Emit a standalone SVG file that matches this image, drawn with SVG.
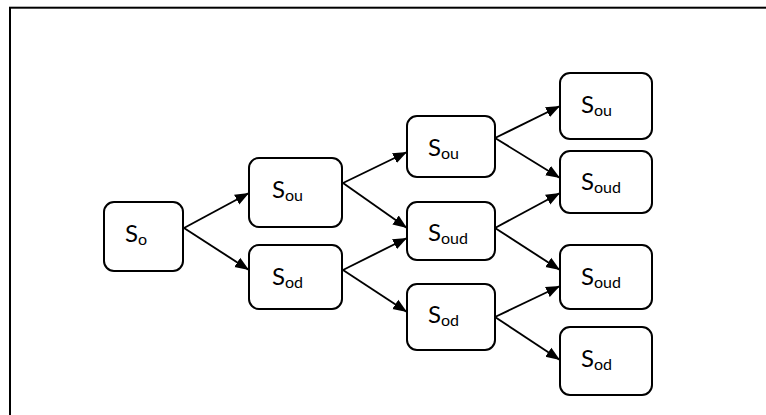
<svg xmlns="http://www.w3.org/2000/svg" width="766" height="415" viewBox="0 0 766 415">
<defs>
<marker id="ah" markerUnits="userSpaceOnUse" markerWidth="15" markerHeight="12" viewBox="0 0 15 12" refX="14" refY="6" orient="auto">
<path d="M0,0.5 L14,6 L0,11.5 Z" fill="#000"/>
</marker>
</defs>
<style>
.box{fill:#fff;stroke:#000;stroke-width:2}
.lbl{font-family:Lato,"Open Sans","Liberation Sans",sans-serif;font-size:24px;fill:#000}
.sub{font-size:16px}
.edge{stroke:#000;stroke-width:1.9;fill:none;marker-end:url(#ah)}
</style>
<rect x="10" y="7.7" width="800" height="450" fill="#fff" stroke="#000" stroke-width="2"/>
<g id="connectors">
<line class="edge" x1="184" y1="228" x2="249" y2="193"/>
<line class="edge" x1="184" y1="228" x2="249" y2="270"/>
<line class="edge" x1="343" y1="183" x2="407" y2="152"/>
<line class="edge" x1="343" y1="183" x2="407" y2="228"/>
<line class="edge" x1="343" y1="270" x2="407" y2="238"/>
<line class="edge" x1="343" y1="270" x2="407" y2="312"/>
<line class="edge" x1="495" y1="138" x2="560" y2="106"/>
<line class="edge" x1="495" y1="138" x2="560" y2="178"/>
<line class="edge" x1="495" y1="228" x2="560" y2="193"/>
<line class="edge" x1="495" y1="228" x2="560" y2="270"/>
<line class="edge" x1="495" y1="317" x2="560" y2="286"/>
<line class="edge" x1="495" y1="317" x2="560" y2="360"/>
</g>
<g id="n0"><rect class="box" x="104" y="202" width="79" height="69" rx="10"/><text class="lbl" x="125" y="242">S<tspan class="sub" dy="3">o</tspan></text></g>
<g id="n1"><rect class="box" x="249" y="158" width="93" height="69" rx="10"/><text class="lbl" x="272" y="198">S<tspan class="sub" dy="3">ou</tspan></text></g>
<g id="n2"><rect class="box" x="249" y="245" width="93" height="64" rx="10"/><text class="lbl" x="272" y="285">S<tspan class="sub" dy="3">od</tspan></text></g>
<g id="n3"><rect class="box" x="407" y="116" width="88" height="61" rx="10"/><text class="lbl" x="428" y="156">S<tspan class="sub" dy="3">ou</tspan></text></g>
<g id="n4"><rect class="box" x="407" y="202" width="88" height="58" rx="10"/><text class="lbl" x="428" y="241">S<tspan class="sub" dy="3">oud</tspan></text></g>
<g id="n5"><rect class="box" x="407" y="284" width="88" height="66" rx="10"/><text class="lbl" x="428" y="323">S<tspan class="sub" dy="3">od</tspan></text></g>
<g id="n6"><rect class="box" x="560" y="73" width="92" height="66" rx="10"/><text class="lbl" x="581" y="113">S<tspan class="sub" dy="3">ou</tspan></text></g>
<g id="n7"><rect class="box" x="560" y="151" width="92" height="62" rx="10"/><text class="lbl" x="581" y="190">S<tspan class="sub" dy="3">oud</tspan></text></g>
<g id="n8"><rect class="box" x="560" y="245" width="92" height="64" rx="10"/><text class="lbl" x="581" y="285">S<tspan class="sub" dy="3">oud</tspan></text></g>
<g id="n9"><rect class="box" x="560" y="327" width="92" height="68" rx="10"/><text class="lbl" x="581" y="367">S<tspan class="sub" dy="3">od</tspan></text></g>
</svg>
